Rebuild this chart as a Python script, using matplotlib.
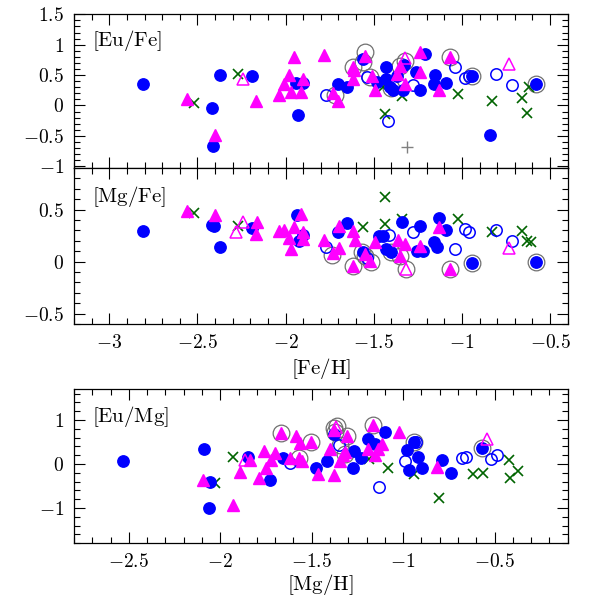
import matplotlib
matplotlib.use('Agg')
import matplotlib.pyplot as plt
from matplotlib.ticker import MultipleLocator, FuncFormatter

plt.rcParams['mathtext.fontset'] = 'cm'
plt.rcParams['font.family'] = ['DejaVu Serif']

BLUE = '#0000ff'
MAG = '#ff00ff'
GREEN = '#006400'
RING = '#707070'

# ---- panel 1: [Eu/Fe] vs [Fe/H]
eufe_blue_x = [-2.81, -2.42, -2.41, -2.37, -2.19, -1.94, -1.90, -1.93, -1.70, -1.65, -1.56, -1.48, -1.43,
               -1.43, -1.41, -1.39, -1.37, -1.33, -1.335, -1.26, -1.21, -1.24, -1.15, -1.16, -1.09, -0.94,
               -0.84, -0.58]
eufe_blue_y = [0.36, -0.04, -0.67, 0.50, 0.48, 0.37, 0.37, -0.15, 0.36, 0.30, 0.77, 0.39, 0.63,
               0.43, 0.31, 0.26, 0.48, 0.67, 0.25, 0.55, 0.84, 0.26, 0.50, 0.35, 0.37, 0.49,
               -0.48, 0.36]
eufe_oblue_x = [-1.77, -1.54, -1.275, -1.42, -1.04, -0.98, -0.96, -0.805, -0.716]
eufe_oblue_y = [0.18, 0.47, 0.33, -0.26, 0.63, 0.45, 0.48, 0.51, 0.33]
eufe_tri_x = [-2.56, -2.40, -2.17, -1.95, -1.98, -2.01, -2.04, -1.97, -1.90, -1.91, -1.78, -1.73, -1.70,
              -1.62, -1.61, -1.615, -1.55, -1.51, -1.49, -1.37, -1.35, -1.32, -1.24, -1.24, -1.13, -1.07]
eufe_tri_y = [0.10, -0.49, 0.07, 0.79, 0.50, 0.36, 0.18, 0.22, 0.44, 0.22, 0.83, 0.20, 0.08,
              0.64, 0.58, 0.44, 0.82, 0.48, 0.25, 0.52, 0.65, 0.36, 0.55, 0.88, 0.25, 0.79]
eufe_otri_x = [-2.24, -1.32, -0.73]
eufe_otri_y = [0.43, 0.78, 0.69]
eufe_x_x = [-2.52, -2.27, -1.445, -1.34, -1.435, -1.02, -0.83, -0.66, -0.63, -0.62]
eufe_x_y = [0.04, 0.52, 0.30, 0.16, -0.14, 0.19, 0.07, 0.12, -0.12, 0.30]
eufe_ring_x = [-1.72, -1.62, -1.55, -1.56, -1.52, -1.40, -1.35, -1.32, -1.07, -0.94, -0.58]
eufe_ring_y = [0.17, 0.63, 0.88, 0.72, 0.47, 0.28, 0.65, 0.73, 0.79, 0.49, 0.36]
eufe_plus_x = [-1.31]
eufe_plus_y = [-0.69]

# ---- panel 2: [Mg/Fe] vs [Fe/H]
mgfe_blue_x = [-2.81, -2.42, -2.405, -2.37, -2.19, -1.935, -1.90, -1.925, -1.70, -1.65, -1.56, -1.47,
               -1.445, -1.43, -1.40, -1.34, -1.24, -1.255, -1.22, -1.16, -1.14, -1.13, -1.09, -0.94, -0.58]
mgfe_blue_y = [0.29, 0.35, 0.34, 0.14, 0.32, 0.45, 0.26, 0.20, 0.28, 0.37, 0.09, 0.25,
               0.25, 0.12, 0.09, 0.38, 0.34, 0.10, 0.10, 0.19, 0.14, 0.42, 0.30, -0.01, 0.00]
mgfe_oblue_x = [-1.77, -1.54, -1.415, -1.275, -1.04, -0.985, -0.96, -0.805, -0.716]
mgfe_oblue_y = [0.14, 0.03, 0.26, 0.28, 0.12, 0.31, 0.28, 0.30, 0.20]
mgfe_tri_x = [-2.56, -2.40, -2.16, -2.17, -2.04, -2.01, -1.98, -1.97, -1.95, -1.91, -1.90, -1.90, -1.78,
              -1.73, -1.695, -1.695, -1.62, -1.62, -1.605, -1.55, -1.52, -1.49, -1.36, -1.35, -1.32,
              -1.24, -1.13, -1.07]
mgfe_tri_y = [0.49, 0.45, 0.38, 0.27, 0.29, 0.30, 0.23, 0.12, 0.33, 0.46, 0.28, 0.22, 0.21,
              0.08, 0.13, 0.34, -0.04, 0.29, 0.21, 0.07, 0.01, 0.19, 0.21, 0.05, 0.17,
              0.15, 0.33, -0.07]
mgfe_otri_x = [-2.24, -2.28, -1.315, -0.73]
mgfe_otri_y = [0.38, 0.28, -0.07, 0.13]
mgfe_x_x = [-2.52, -2.27, -1.56, -1.435, -1.435, -1.34, -1.02, -0.83, -0.66, -0.63, -0.61]
mgfe_x_y = [0.47, 0.34, 0.33, 0.62, 0.36, 0.41, 0.41, 0.28, 0.29, 0.20, 0.19]
mgfe_ring_x = [-1.735, -1.62, -1.565, -1.55, -1.515, -1.40, -1.35, -1.315, -1.07, -0.94, -0.58]
mgfe_ring_y = [0.06, -0.04, 0.09, 0.05, 0.00, 0.09, 0.05, -0.07, -0.07, -0.01, 0.00]

# ---- panel 3: [Eu/Mg] vs [Mg/H]
eumg_blue_x = [-2.53, -2.09, -2.055, -2.06, -1.85, -1.73, -1.655, -1.475, -1.415, -1.38, -1.27, -1.275,
               -1.23, -1.19, -1.155, -1.10, -0.98, -0.94, -0.92, -0.97, -0.895, -0.785, -0.74, -0.57]
eumg_blue_y = [0.07, 0.35, -0.40, -1.00, 0.17, -0.36, 0.13, -0.08, 0.07, 0.69, 0.29, -0.08,
               0.13, 0.56, 0.45, 0.73, 0.33, 0.50, 0.17, -0.14, -0.08, 0.09, -0.20, 0.37]
eumg_oblue_x = [-1.62, -1.35, -1.13, -0.99, -0.93, -0.68, -0.655, -0.52, -0.485]
eumg_oblue_y = [0.02, 0.43, -0.51, 0.07, 0.50, 0.13, 0.17, 0.11, 0.20]
eumg_tri_x = [-2.095, -1.93, -1.84, -1.89, -1.76, -1.70, -1.72, -1.75, -1.79, -1.667, -1.62, -1.585,
              -1.565, -1.57, -1.555, -1.505, -1.465, -1.38, -1.40, -1.38, -1.345, -1.32, -1.33, -1.305,
              -1.19, -1.155, -1.14, -1.115, -1.167, -1.02, -0.815]
eumg_tri_y = [-0.36, -0.94, 0.10, -0.17, 0.29, 0.26, 0.09, -0.08, -0.32, 0.71, 0.13, 0.64,
              0.47, 0.13, 0.08, 0.51, -0.23, -0.25, 0.35, 0.78, 0.07, 0.28, 0.20, 0.64,
              0.35, 0.20, 0.34, 0.45, 0.88, 0.73, -0.06]
eumg_otri_x = [-1.865, -1.365, -0.54]
eumg_otri_y = [0.09, 0.84, 0.58]
eumg_x_x = [-2.03, -1.93, -1.185, -1.08, -0.94, -0.805, -0.62, -0.565, -0.42, -0.415, -0.37]
eumg_x_y = [-0.44, 0.17, 0.11, -0.08, -0.23, -0.76, -0.23, -0.21, 0.10, -0.32, -0.16]
eumg_ring_x = [-1.667, -1.57, -1.505, -1.38, -1.37, -1.36, -1.345, -1.32, -1.305, -1.167, -0.94, -0.57]
eumg_ring_y = [0.71, 0.13, 0.51, 0.82, 0.74, 0.86, 0.43, 0.22, 0.64, 0.88, 0.50, 0.37]


def fmt(v, pos):
    return r'$%g$' % v


def draw(ax, d):
    ax.plot(d['ring'][0], d['ring'][1], 'o', ms=12, mfc='none', mec=RING, mew=0.9, ls='none')
    ax.plot(d['x'][0], d['x'][1], 'x', ms=7, color=GREEN, mew=1.2, ls='none')
    ax.plot(d['blue'][0], d['blue'][1], 'o', ms=8.2, color=BLUE, ls='none')
    ax.plot(d['oblue'][0], d['oblue'][1], 'o', ms=8.2, mfc='none', mec=BLUE, mew=1.1, ls='none')
    ax.plot(d['tri'][0], d['tri'][1], '^', ms=8, color=MAG, ls='none')
    ax.plot(d['otri'][0], d['otri'][1], '^', ms=8, mfc='none', mec=MAG, mew=1.1, ls='none')


def style(ax, xmaj, xmin, ymaj, ymin):
    ax.xaxis.set_major_locator(MultipleLocator(xmaj))
    ax.xaxis.set_minor_locator(MultipleLocator(xmin))
    ax.yaxis.set_major_locator(MultipleLocator(ymaj))
    ax.yaxis.set_minor_locator(MultipleLocator(ymin))
    ax.xaxis.set_major_formatter(FuncFormatter(fmt))
    ax.yaxis.set_major_formatter(FuncFormatter(fmt))
    ax.tick_params(which='both', direction='in', top=True, right=True, width=0.8, labelsize=14, pad=7)
    ax.tick_params(which='major', length=8)
    ax.tick_params(which='minor', length=4)
    for s in ax.spines.values():
        s.set_linewidth(0.9)


fig = plt.figure(figsize=(5.99, 5.99), dpi=100)
ax1 = fig.add_axes([0.1235, 0.7195, 0.8242, 0.2566])
ax2 = fig.add_axes([0.1235, 0.4591, 0.8242, 0.2604])
ax3 = fig.add_axes([0.1235, 0.0930, 0.8242, 0.2571])

draw(ax1, {'ring': (eufe_ring_x, eufe_ring_y), 'x': (eufe_x_x, eufe_x_y), 'blue': (eufe_blue_x, eufe_blue_y),
           'oblue': (eufe_oblue_x, eufe_oblue_y), 'tri': (eufe_tri_x, eufe_tri_y),
           'otri': (eufe_otri_x, eufe_otri_y)})
ax1.plot(eufe_plus_x, eufe_plus_y, '+', ms=9, color='#808080', mew=1.0, ls='none')
draw(ax2, {'ring': (mgfe_ring_x, mgfe_ring_y), 'x': (mgfe_x_x, mgfe_x_y), 'blue': (mgfe_blue_x, mgfe_blue_y),
           'oblue': (mgfe_oblue_x, mgfe_oblue_y), 'tri': (mgfe_tri_x, mgfe_tri_y),
           'otri': (mgfe_otri_x, mgfe_otri_y)})
draw(ax3, {'ring': (eumg_ring_x, eumg_ring_y), 'x': (eumg_x_x, eumg_x_y), 'blue': (eumg_blue_x, eumg_blue_y),
           'oblue': (eumg_oblue_x, eumg_oblue_y), 'tri': (eumg_tri_x, eumg_tri_y),
           'otri': (eumg_otri_x, eumg_otri_y)})

ax1.set_xlim(-3.2, -0.4)
ax1.set_ylim(-1.03, 1.5)
ax2.set_xlim(-3.2, -0.4)
ax2.set_ylim(-0.6, 0.9)
ax3.set_xlim(-2.8, -0.1)
ax3.set_ylim(-1.8, 1.7)

style(ax1, 0.5, 0.1, 0.5, 0.1)
style(ax2, 0.5, 0.1, 0.5, 0.1)
style(ax3, 0.5, 0.1, 1, 0.2)
ax1.tick_params(labelbottom=False)

ax1.text(0.036, 0.83, r'$[\mathrm{Eu/Fe}]$', transform=ax1.transAxes, fontsize=15, va='center')
ax2.text(0.036, 0.816, r'$[\mathrm{Mg/Fe}]$', transform=ax2.transAxes, fontsize=15, va='center')
ax3.text(0.036, 0.826, r'$[\mathrm{Eu/Mg}]$', transform=ax3.transAxes, fontsize=15, va='center')

ax2.set_xlabel(r'$[\mathrm{Fe/H}]$', fontsize=15, labelpad=3)
ax3.set_xlabel(r'$[\mathrm{Mg/H}]$', fontsize=15, labelpad=1)

fig.savefig('out.png', dpi=100)
